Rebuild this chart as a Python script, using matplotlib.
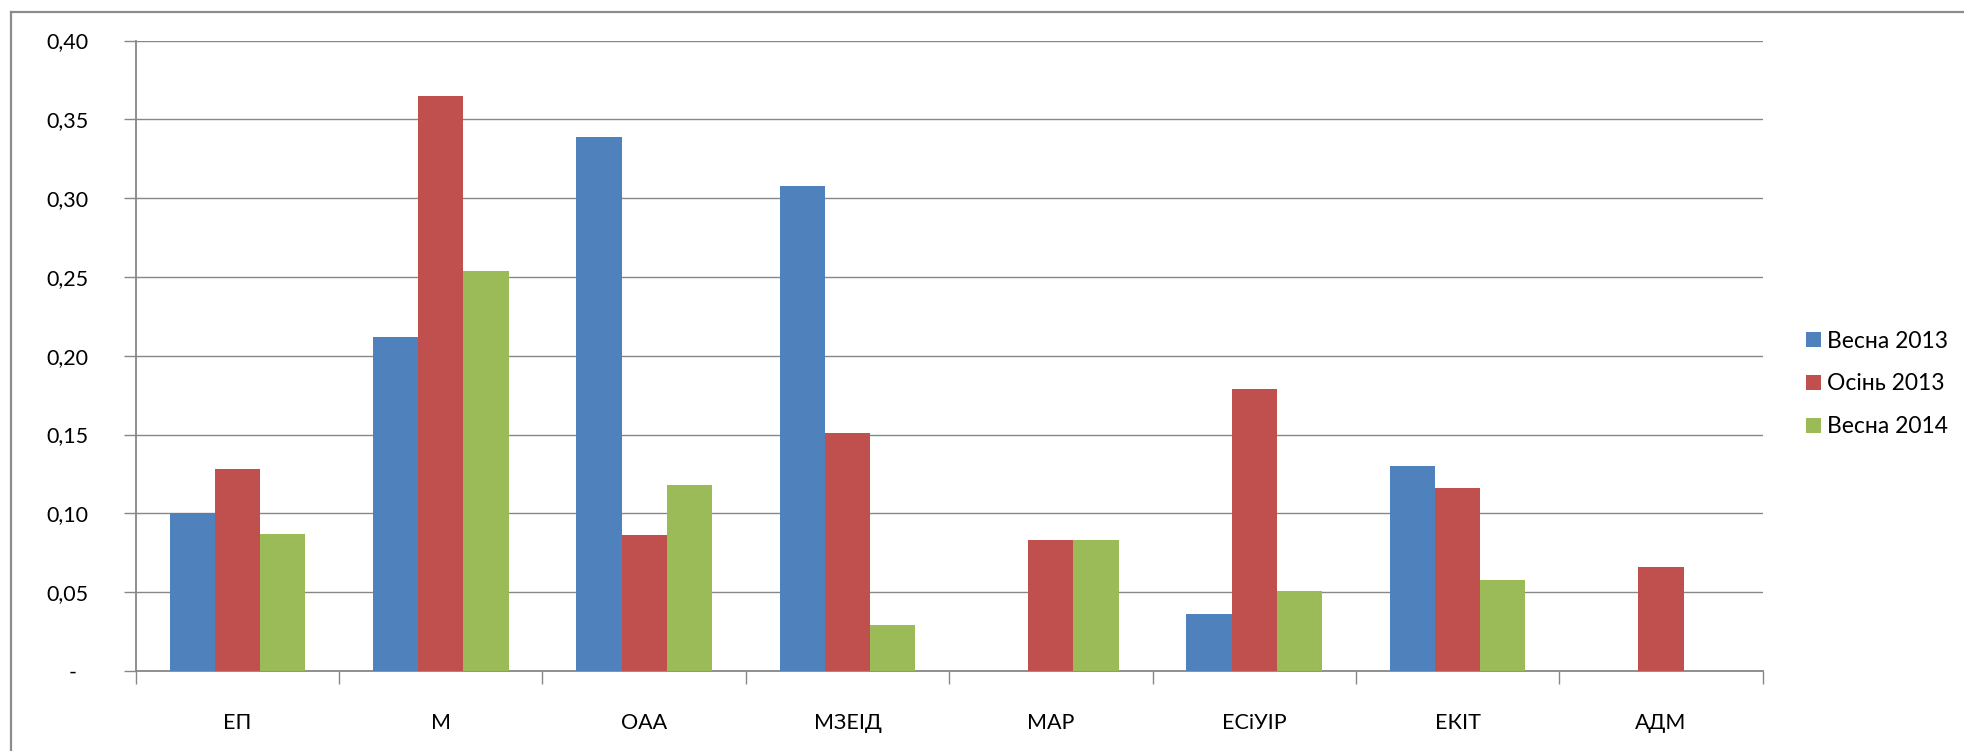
import matplotlib.pyplot as plt
from matplotlib.lines import Line2D
import numpy as np

categories = ["ЕП", "М", "ОАА", "МЗЕІД", "МАР", "ЕСіУІР", "ЕКІТ", "АДМ"]
vesna_2013 = [0.100, 0.212, 0.339, 0.308, 0.0, 0.036, 0.130, 0.0]
osin_2013 = [0.128, 0.365, 0.086, 0.151, 0.083, 0.179, 0.116, 0.066]
vesna_2014 = [0.087, 0.254, 0.118, 0.029, 0.083, 0.051, 0.058, 0.0]
series_names = ["Весна 2013", "Осінь 2013", "Весна 2014"]
y_ticks = [0.0, 0.05, 0.10, 0.15, 0.20, 0.25, 0.30, 0.35, 0.40]

plt.rcParams['font.family'] = ['Lato', 'DejaVu Sans']
grey = '#878787'

fig = plt.figure(figsize=(19.64, 7.51), dpi=100)
ax = fig.add_axes([135.7 / 1964, 80 / 751, 1627 / 1964, 630.5 / 751])

x = np.arange(len(categories))
w = 2 / 9
colors = ['#4F81BD', '#C0504D', '#9BBB59']
for i, (vals, name) in enumerate(zip([vesna_2013, osin_2013, vesna_2014], series_names)):
    ax.bar(x + (i - 1) * w, vals, width=w, color=colors[i], label=name, zorder=3)

ax.set_xlim(-0.5, len(categories) - 0.5)
ax.set_ylim(0, 0.40)

# y axis: comma decimals, dash for zero
ax.set_yticks(y_ticks)
ax.set_yticklabels(["-  " if v == 0 else f"{v:.2f}".replace('.', ',') for v in y_ticks])
ax.yaxis.grid(True, color=grey, linewidth=1.0, zorder=0)
ax.tick_params(axis='y', length=9, width=1.0, color=grey, pad=25, labelsize=15.5)

# x axis: ticks between categories, labels at centers
ax.set_xticks(np.arange(-0.5, len(categories), 1.0))
ax.set_xticklabels([])
ax.set_xticks(x, minor=True)
ax.set_xticklabels(categories, minor=True)
ax.tick_params(axis='x', which='major', length=9, width=1.0, color=grey)
ax.tick_params(axis='x', which='minor', length=0, pad=30, labelsize=15.5)

for side in ['top', 'right']:
    ax.spines[side].set_visible(False)
for side in ['left', 'bottom']:
    ax.spines[side].set_color(grey)
    ax.spines[side].set_linewidth(1.3)

fig.legend(loc='center left', bbox_to_anchor=(1806 / 1964, 1 - 384 / 751),
           frameon=False, fontsize=16.5, borderpad=0, borderaxespad=0,
           handlelength=0.65, handleheight=0.65, handletextpad=0.28,
           labelspacing=0.95)

# chart-area frame (only top and left visible in the picture)
fig.add_artist(Line2D([11 / 1964, 11 / 1964], [0, 1 - 12 / 751],
                      transform=fig.transFigure, color='#8c8c8c', linewidth=1.6))
fig.add_artist(Line2D([11 / 1964, 1], [1 - 12 / 751, 1 - 12 / 751],
                      transform=fig.transFigure, color='#8c8c8c', linewidth=1.6))

plt.savefig('out.png', dpi=100)
